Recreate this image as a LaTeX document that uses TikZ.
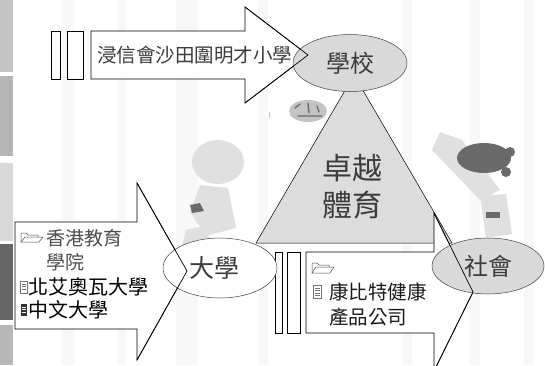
\documentclass[tikz,border=0pt]{standalone}
\usepackage{fontspec}
\newfontfamily\cjk{Noto Sans CJK TC}
\usetikzlibrary{shapes.geometric}
\definecolor{ovalgray}{HTML}{D9D9D9}
\definecolor{trigray}{HTML}{DCDCDC}
\definecolor{txtgray}{HTML}{3C3C3C}
\definecolor{stripe}{HTML}{F8F8F8}
\definecolor{artlight}{HTML}{E0E0E0}
\definecolor{artmid}{HTML}{C4C4C4}
\definecolor{artdark}{HTML}{6A6A6A}
\tikzset{
  outline/.style={draw=black, line width=0.7pt, line join=miter},
  blockarrow/.style={outline, fill=white},
  bar/.style={outline, fill=white},
  oval/.style={ellipse, draw=black!75, line width=0.5pt, inner sep=0pt},
  cjktext/.style={inner sep=0pt, font=\cjk},
}
\begin{document}
\begin{tikzpicture}[x=1pt, y=-1pt]
\useasboundingbox (0,0) rectangle (545,365);
\fill[white] (0,0) rectangle (545,365);
% faint background stripes
\foreach \a/\b in {62/74, 118/126, 176/198, 258/268, 402/412, 470/480, 524/534}
  \fill[stripe] (\a,0) rectangle (\b,365);
% left strip
\fill[black!23] (0,0) rectangle (13,72);
\fill[black!29] (0,76) rectangle (13,156);
\fill[black!15] (0,163) rectangle (13,241);
\fill[black!60] (0,244) rectangle (13,320);
\fill[black!28] (0,325) rectangle (13,365);
% clip-art hints (ball, boy, girl)
\fill[artmid] (308,111) ellipse [x radius=19, y radius=11];
\draw[artdark, line width=1.4pt, line cap=round] (295,108) -- (300,104) (298,116) -- (322,116) (308,103) -- (309,113) (317,106) -- (319,112);
\draw[artmid, line width=1pt, line cap=round] (270,112) arc [start angle=200, end angle=160, radius=8] (340,104) arc [start angle=-30, end angle=30, radius=6] (352,104) arc [start angle=-30, end angle=30, radius=6];
\fill[artlight] (218,162) ellipse [x radius=26, y radius=22];
\fill[artlight] (200,185) -- (228,188) -- (236,228) -- (206,236) -- (190,212) -- cycle;
\fill[artlight] (186,230) -- (204,226) -- (212,244) -- (182,246) -- cycle;
\fill[artdark] (190,205) -- (200,203) -- (204,211) -- (192,213) -- cycle;
\fill[artlight] (440,132) -- (462,140) -- (500,190) -- (480,200) -- (432,150) -- cycle;
\fill[artdark] (484,158) ellipse [x radius=27, y radius=15];
\fill[artdark] (510,152) circle [radius=5];
\fill[artdark] (506,172) circle [radius=5];
\fill[artlight] (480,196) -- (506,194) -- (512,234) -- (486,238) -- cycle;
\fill[artdark] (486,212) rectangle (500,218);
% triangle
\draw[outline, line width=0.5pt, fill=trigray] (354,75) -- (256,243) -- (452,243) -- cycle;
% top arrow
\path[blockarrow] (91,31) -- (245,31) -- (245,7) -- (308,55) -- (245,103) -- (245,79) -- (91,79) -- cycle;
\draw[bar] (51,31) rectangle (60,79);
\draw[bar] (67,31) rectangle (83,79);
% left arrow
\path[blockarrow] (15,222) -- (137,222) -- (137,183) -- (187,271) -- (137,360) -- (137,329) -- (15,329) -- cycle;
% right arrow
\path[blockarrow] (306,252) -- (434,252) -- (434,213) -- (473,292) -- (434,371) -- (434,333) -- (306,333) -- cycle;
\draw[bar] (275,252) rectangle (282,333);
\draw[bar] (287,252) rectangle (300,333);
% ovals
\node[oval, fill=ovalgray, minimum width=114pt, minimum height=57pt] (school) at (350,63) {};
\node[oval, fill=white, minimum width=114pt, minimum height=60pt] (uni) at (220,268) {};
\node[oval, fill=ovalgray, minimum width=112pt, minimum height=56pt] (society) at (488,266) {};
% arrow outlines over the ovals
\draw[outline] (245,7) -- (308,55) -- (245,103);
\draw[outline] (137,183) -- (187,271) -- (137,360);
\draw[outline] (434,213) -- (473,292) -- (434,371);
% oval labels
\node[cjktext, font=\cjk\fontsize{24}{26}\selectfont, text=txtgray] (schoolt) at (school.center) {學校};
\node[cjktext, font=\cjk\fontsize{25}{27}\selectfont, text=txtgray] (unit) at (214,268) {大學};
\node[cjktext, font=\cjk\fontsize{24}{26}\selectfont, text=txtgray] (societyt) at (society.center) {社會};
% centre title
\node[cjktext, font=\cjk\fontsize{30}{37}\selectfont, text=txtgray, align=center] (title) at (352,187) {卓越\\體育};
% top arrow text
\node[cjktext, font=\cjk\fontsize{19.5}{22}\selectfont, text=txtgray, anchor=west] (primary) at (97,55) {浸信會沙田圍明才小學};
% left arrow texts
\draw[black!70, line width=0.5pt] (21,242) -- (21,233) -- (26,233) -- (28,235) -- (38,235) -- (38,237);
\draw[black!70, line width=0.5pt] (21,242) -- (25,237) -- (43,237) -- (39,242) -- cycle;
\node[cjktext, font=\cjk\fontsize{19}{21}\selectfont, text=black!70, anchor=west] (ied1) at (46,238) {香港教育};
\node[cjktext, font=\cjk\fontsize{19}{21}\selectfont, text=black!70, anchor=west] (ied2) at (46,262) {學院};
\draw[black!55, line width=0.4pt, fill=white] (20.5,281) rectangle (27,293);
\foreach \yy in {284,286.5,289} \draw[black!55, line width=0.4pt] (22,\yy) -- (25.5,\yy);
\node[cjktext, font=\cjk\fontsize{20}{22}\selectfont, text=black, anchor=west] (uni1) at (28.5,287) {北艾奧瓦大學};
\fill[black!80] (20.5,304) rectangle (27,316);
\foreach \yy in {307,309.5,312} \draw[white, line width=0.5pt] (22,\yy) -- (25.5,\yy);
\node[cjktext, font=\cjk\fontsize{20}{22}\selectfont, text=black, anchor=west] (uni2) at (28.5,310) {中文大學};
% right arrow texts
\draw[black!70, line width=0.5pt] (312,273) -- (312,263) -- (317,263) -- (319,265) -- (329,265) -- (329,267);
\draw[black!70, line width=0.5pt] (312,273) -- (316,267) -- (334,267) -- (330,273) -- cycle;
\draw[black!55, line width=0.4pt, fill=white] (313,285) rectangle (321,298);
\foreach \yy in {288,290.5,293,295.5} \draw[black!55, line width=0.4pt] (314.5,\yy) -- (319.5,\yy);
\node[cjktext, font=\cjk\fontsize{19.5}{22}\selectfont, text=black!90, anchor=west] (comp1) at (329,292) {康比特健康};
\node[cjktext, font=\cjk\fontsize{19.5}{22}\selectfont, text=black!90, anchor=west] (comp2) at (329,317) {產品公司};
\end{tikzpicture}
\end{document}
